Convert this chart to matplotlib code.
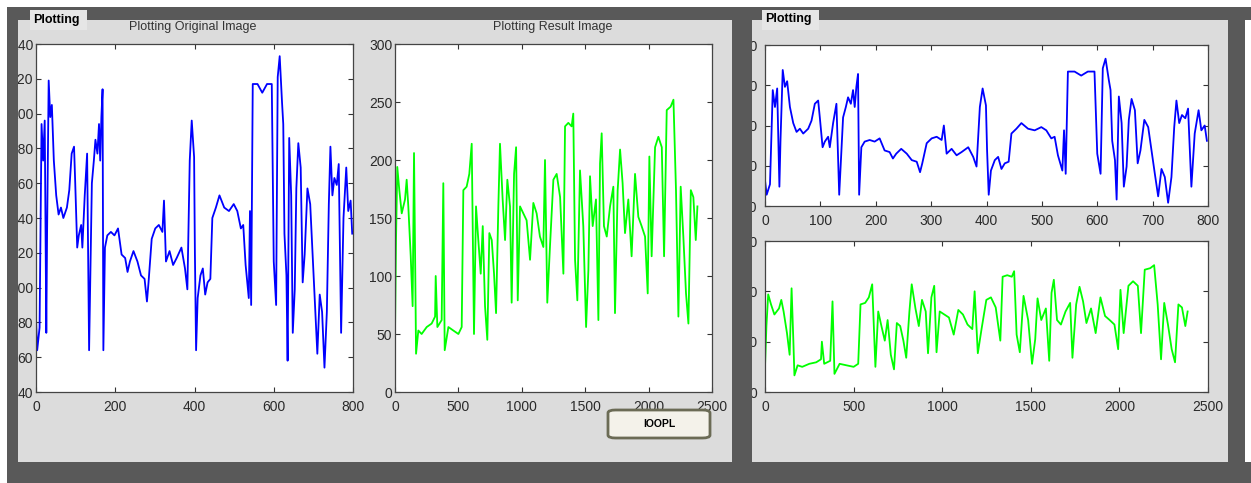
import numpy as np
import matplotlib.pyplot as plt
from matplotlib.patches import Rectangle, FancyBboxPatch

W, H = 1251, 483

# blue signal (original image)
blue_x = [0, 3, 9, 14, 18, 22, 26, 28, 32, 36, 40, 45, 51, 57, 63, 69, 78, 84, 90, 96,
          99, 104, 108, 114, 117, 123, 129, 132, 134, 138, 141, 146, 150, 155, 159, 162, 165, 168, 170, 174,
          180, 189, 198, 207, 216, 225, 231, 237, 246, 256, 265, 274, 280, 284, 292, 301, 310, 319, 323, 328,
          337, 346, 355, 367, 376, 382, 388, 393, 399, 401, 404, 408, 415, 421, 427, 433, 440, 445, 454, 463,
          475, 487, 499, 508, 517, 523, 529, 537, 540, 543, 547, 559, 571, 583, 595, 600, 606, 610, 615, 621,
          624, 627, 632, 635, 639, 644, 648, 653, 657, 662, 668, 673, 678, 685, 692, 698, 704, 710, 716, 722,
          728, 734, 739, 743, 748, 753, 759, 764, 770, 776, 783, 788, 794, 798]
blue_y = [82, 64, 77, 194, 173, 196, 74, 132, 219, 198, 205, 173, 153, 142, 146, 140, 146, 156, 177, 181,
          160, 123, 130, 136, 123, 153, 177, 111, 64, 119, 160, 173, 185, 177, 194, 173, 198, 214, 64, 123,
          130, 132, 130, 134, 119, 117, 109, 115, 121, 115, 107, 105, 92, 103, 128, 134, 136, 132, 150, 115,
          121, 113, 117, 123, 111, 99, 173, 196, 175, 120, 64, 94, 107, 111, 96, 103, 105, 140, 146, 153,
          146, 144, 148, 144, 134, 136, 113, 94, 144, 90, 217, 217, 212, 217, 217, 115, 90, 221, 233, 206,
          194, 131, 107, 58, 186, 153, 74, 99, 157, 183, 169, 103, 119, 157, 148, 119, 90, 62, 96, 86,
          54, 86, 148, 181, 153, 163, 159, 171, 74, 140, 169, 144, 150, 131]

# green signal (result image)
green_x = [0, 8, 18, 34, 53, 79, 92, 105, 124, 139, 150, 160, 166, 184, 210, 250, 289, 316, 321, 334,
           368, 381, 392, 421, 460, 500, 526, 539, 565, 586, 605, 623, 639, 657, 676, 692, 710, 728, 744, 763,
           781, 797, 815, 828, 849, 868, 886, 907, 920, 939, 955, 968, 986, 1012, 1038, 1065, 1091, 1117, 1143, 1170,
           1183, 1201, 1222, 1249, 1275, 1302, 1328, 1341, 1367, 1393, 1406, 1420, 1438, 1459, 1485, 1507, 1525, 1538, 1559, 1585,
           1604, 1617, 1630, 1648, 1670, 1696, 1722, 1735, 1756, 1775, 1795, 1814, 1840, 1866, 1893, 1919, 1945, 1972, 1993, 2006,
           2024, 2051, 2077, 2104, 2122, 2143, 2174, 2196, 2216, 2235, 2253, 2274, 2295, 2314, 2333, 2353, 2372, 2385]
green_y = [50, 131, 194, 174, 154, 166, 183, 160, 117, 74, 206, 102, 33, 53, 50, 56, 59, 65, 100, 56,
           62, 180, 36, 56, 53, 50, 56, 174, 177, 188, 214, 50, 160, 131, 102, 143, 74, 45, 137, 131,
           102, 68, 160, 214, 166, 131, 183, 160, 77, 188, 211, 79, 160, 154, 148, 114, 163, 154, 134, 125,
           200, 77, 125, 183, 188, 168, 102, 229, 232, 229, 240, 114, 79, 191, 143, 56, 105, 186, 143, 166,
           62, 197, 223, 143, 134, 160, 177, 68, 174, 209, 180, 137, 166, 117, 188, 151, 143, 134, 85, 203,
           117, 211, 220, 211, 117, 243, 246, 252, 174, 65, 177, 134, 85, 59, 174, 168, 131, 160]

left_yticks = list(range(40, 241, 20))
mid_yticks = list(range(0, 301, 50))
ur_yticks = list(range(50, 251, 50))
lr_yticks = list(range(0, 301, 100))

DARK = '#595959'
PANEL = '#dcdcdc'


def frac(x0, y0, x1, y1):
    # pixel box -> figure fraction [left, bottom, width, height]
    return [x0 / W, 1 - y1 / H, (x1 - x0) / W, (y1 - y0) / H]


def px_rect(x0, y0, x1, y1, color, z, **kw):
    l, b, w, h = frac(x0, y0, x1, y1)
    r = Rectangle((l, b), w, h, transform=fig.transFigure, facecolor=color,
                  edgecolor='none', zorder=z, **kw)
    fig.add_artist(r)
    return r


plt.rcParams['font.family'] = ['Liberation Sans', 'DejaVu Sans']
fig = plt.figure(figsize=(W / 100, H / 100), dpi=100)
fig.patch.set_facecolor('white')

# light panels under the axes
px_rect(18, 20, 732, 462, PANEL, -2)
px_rect(752, 20, 1228, 462, PANEL, -2)


def style(ax, xlim, xticks, ylim, yticks, ypad=2):
    ax.set_xlim(xlim)
    ax.set_ylim(ylim)
    ax.set_xticks(xticks)
    ax.set_yticks(yticks)
    ax.tick_params(direction='in', top=True, right=True, length=3.5, width=0.8,
                   labelsize=10, labelcolor='#2a2a2a', color='#333333')
    ax.tick_params(axis='x', pad=5.5)
    ax.tick_params(axis='y', pad=ypad)
    for s in ax.spines.values():
        s.set_color('#444444')
        s.set_linewidth(0.9)
    ax.set_facecolor('white')


ax1 = fig.add_axes(frac(36, 44, 353, 392))
ax1.plot(blue_x, blue_y, color='#0000ff', lw=1.3)
style(ax1, (0, 800), range(0, 801, 200), (40, 240), left_yticks)

ax2 = fig.add_axes(frac(395, 44, 712, 392))
ax2.plot(green_x, green_y, color='#00ff00', lw=1.3)
style(ax2, (0, 2500), range(0, 2501, 500), (0, 300), mid_yticks)

ax3 = fig.add_axes(frac(765, 45, 1208, 206))
ax3.plot(blue_x, blue_y, color='#0000ff', lw=1.3)
style(ax3, (0, 800), range(0, 801, 100), (50, 250), ur_yticks, ypad=5.5)

ax4 = fig.add_axes(frac(765, 241, 1208, 392))
ax4.plot(green_x, green_y, color='#00ff00', lw=1.3)
style(ax4, (0, 2500), range(0, 2501, 500), (0, 300), lr_yticks, ypad=5.5)

# dark frame drawn on top, it hides the cut-off tick labels
px_rect(7, 7, W, 20, DARK, 5)
px_rect(7, 7, 18, H, DARK, 5)
px_rect(7, 462, W, H, DARK, 5)
px_rect(732, 7, 752, H, DARK, 5)
px_rect(1228, 7, 1245, H, DARK, 5)

# panel titles
for (x0, x1) in [(30, 87), (762, 819)]:
    px_rect(x0, 10, x1, 30, '#e6e6e6', 6)
fig.text(33 / W, 1 - 20 / H, 'Plotting', fontsize=9, fontweight='bold', va='center', zorder=7)
fig.text(765 / W, 1 - 19 / H, 'Plotting', fontsize=9, fontweight='bold', va='center', zorder=7)

fig.text(193 / W, 1 - 27 / H, 'Plotting Original Image', fontsize=9, color='#333333',
         ha='center', va='center')
fig.text(553 / W, 1 - 27 / H, 'Plotting Result Image', fontsize=9, color='#333333',
         ha='center', va='center')

# the IOOPL button
l, b, w, h = frac(608, 410, 710, 438)
btn = FancyBboxPatch((l, b), w, h, boxstyle='round,pad=0,rounding_size=0.006',
                     transform=fig.transFigure, facecolor='#f4f2ea', edgecolor='#6b6b55',
                     linewidth=2, zorder=8)
fig.add_artist(btn)
fig.text(659 / W, 1 - 424 / H, 'IOOPL', fontsize=7.5, fontweight='bold', ha='center',
         va='center', zorder=9)

plt.savefig('out.png', dpi=100)
